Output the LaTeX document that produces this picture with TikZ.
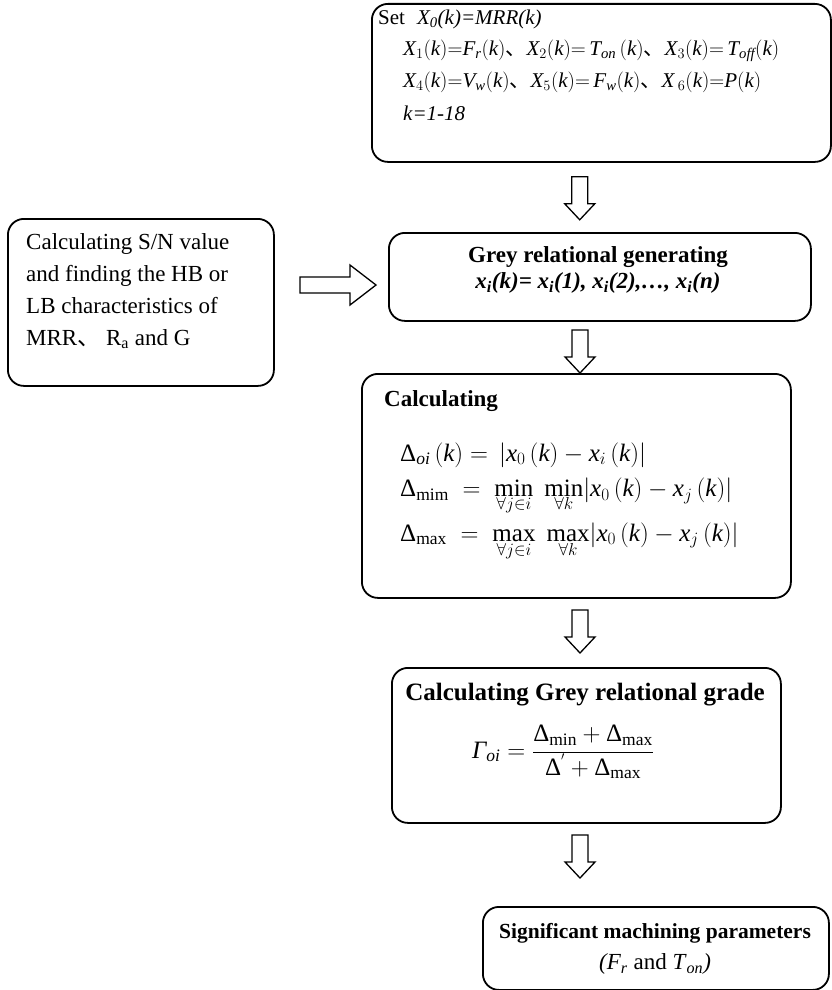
\documentclass[tikz,border=0pt]{standalone}
\usepackage{fontspec}
\setmainfont{Liberation Serif}
\newfontfamily\cjk{Noto Sans CJK SC}
\usetikzlibrary{calc}
\newcommand\I[1]{\mathit{#1}}
\newcommand\dd{\mbox{Δ}}
\newcommand\dn{{\cjk 、}}
\newcommand\downarr[1]{\draw[hollow] (#1) ++(-8,0) -- ++(0,27) -- ++(-7,0) -- ++(15,16) -- ++(15,-16) -- ++(-7,0) -- ++(0,-27) -- cycle;}
\tikzset{
  box/.style={draw, line width=1.8pt, rounded corners=16pt, inner sep=0pt, anchor=north west},
  hollow/.style={draw, line width=1.3pt, fill=white, line join=miter},
  txt/.style={inner sep=0pt, font=\fontsize{23}{32}\selectfont},
  ttl/.style={inner sep=0pt, font=\fontsize{23}{30}\bfseries},
  frm/.style={inner sep=0pt, font=\fontsize{21}{28}\selectfont, anchor=west},
  bigfrm/.style={inner sep=0pt, font=\fontsize{25}{30}\selectfont, anchor=west},
}
\begin{document}
\begin{tikzpicture}[x=1pt,y=-1pt]
\useasboundingbox (0,0) rectangle (832,990);
\fill[white] (0,0) rectangle (832,990);
% boxes
\node[box, minimum width=459pt, minimum height=158pt] (setbox) at (371,3) {};
\node[box, minimum width=266pt, minimum height=167pt] (snbox) at (7,218) {};
\node[box, minimum width=422pt, minimum height=88pt] (greybox) at (388,232) {};
\node[box, minimum width=429pt, minimum height=224pt] (calcbox) at (361,373) {};
\node[box, minimum width=389pt, minimum height=155pt] (gradebox) at (391,667) {};
\node[box, minimum width=346pt, minimum height=83pt] (sigbox) at (482,906) {};
% set box text
\node[frm] (s1) at (378,19) {Set\hspace{12pt}\textit{X\textsubscript{0}(k)=MRR(k)}};
\node[frm] (s2) at (403,51) {$\I{X}_1(\I{k}){=}\I{F}_{\I{r}}(\I{k})$\dn{}$\I{X}_2(\I{k}){=}\,\I{T}_{\I{on}}\,(\I{k})$\dn{}$\I{X}_3(\I{k}){=}\,\I{T}_{\I{off}}(\I{k})$};
\node[frm] (s3) at (403,82) {$\I{X}_4(\I{k}){=}\I{V}_{\I{w}}(\I{k})$\dn{}$\I{X}_5(\I{k}){=}\,\I{F}_{\I{w}}(\I{k})$\dn{}$\I{X}\,_6(\I{k}){=}\I{P}(\I{k})$};
\node[frm] (s4) at (403,113) {\textit{k=1-18}};
% left box text
\node[txt, anchor=west, align=left] (sntext) at (26,291) {Calculating S/N value\\and finding the HB or\\LB characteristics of\\MRR\dn{} R\textsubscript{a} and G};
% grey box text
\node[ttl] (g1) at (598,257) {Grey relational generating};
\node[ttl] (g2) at (598,283) {\textit{x\textsubscript{i}(k)= x\textsubscript{i}(1), x\textsubscript{i}(2),…, x\textsubscript{i}(n)}};
% calc box text
\node[ttl, anchor=west] (c0) at (384,401) {Calculating};
\node[bigfrm] (c1) at (400,455) {$\dd_{\I{oi}}\,(\I{k}) = \,\bigl|\I{x}_0\,(\I{k}) - \I{x}_i\,(\I{k})\bigr|$};
\node[bigfrm] (c2) at (400,496) {$\dd_{\mathrm{mim}}\; = \;\min\limits_{\forall j\in i}\;\min\limits_{\forall k}\bigl|\I{x}_0\,(\I{k}) - \I{x}_j\,(\I{k})\bigr|$};
\node[bigfrm] (c3) at (400,541) {$\dd_{\mathrm{max}}\; = \;\max\limits_{\forall j\in i}\;\max\limits_{\forall k}\bigl|\I{x}_0\,(\I{k}) - \I{x}_j\,(\I{k})\bigr|$};
% grade box text
\node[ttl, font=\fontsize{25}{30}\bfseries] (r1) at (585,695) {Calculating Grey relational grade};
\node[inner sep=0pt, font=\fontsize{25}{30}\selectfont] (r2) at (563,752) {$\textit{Γ}_{\I{oi}} = \displaystyle\frac{\dd_{\mathrm{min}} + \dd_{\mathrm{max}}}{\dd^{'} + \dd_{\mathrm{max}}}$};
% significant box text
\node[ttl, font=\fontsize{21.5}{28}\bfseries] (p1) at (655,933) {Significant machining parameters};
\node[txt] (p2) at (655,964) {\textit{(F}\textsubscript{\textit{r}} and \textit{T}\textsubscript{\textit{on}}\textit{)}};
% hollow arrows
\coordinate (a1) at ($(setbox.south west)!0.453!(setbox.south east)+(0,14)$);
\coordinate (a2) at (580,330);
\coordinate (a3) at (580,610);
\coordinate (a4) at (580,835);
\downarr{a1}
\downarr{a2}
\downarr{a3}
\downarr{a4}
\coordinate (ar) at (300,277);
\draw[hollow] (ar) -- ++(50,0) -- ++(0,-12) -- ++(26,20) -- ++(-26,20) -- ++(0,-12) -- ++(-50,0) -- cycle;
\end{tikzpicture}
\end{document}
